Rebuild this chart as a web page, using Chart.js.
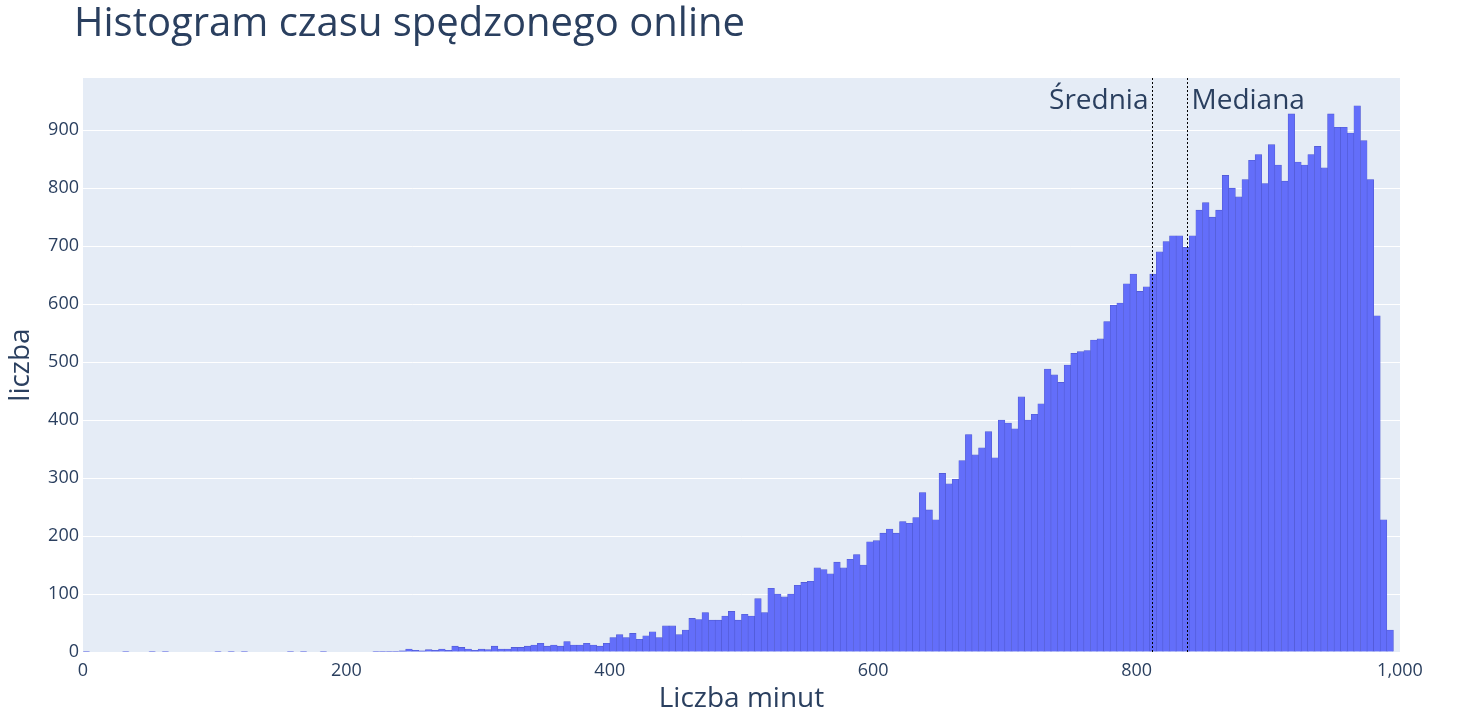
<!DOCTYPE html>
<html><head><meta charset="utf-8">
<script src="https://cdn.jsdelivr.net/npm/chart.js@4"></script>
<style>html,body{margin:0;padding:0;background:#fff}#c{display:block}</style>
</head><body>
<div style="width:1464px;height:720px"><canvas id="c"></canvas></div>
<script>
const binStarts = [];
for (let i = 0; i < 200; i++) binStarts.push(i * 5);
const counts = [
1,0,0,0,0,0,1,0,0,0, 1,0,1,0,0,0,0,0,0,0,
1,0,1,0,1,0,0,0,0,0, 0,1,0,1,0,0,1,0,0,0,
0,0,0,0,1,1,1,1,2,5, 3,2,4,3,5,3,10,8,5,3,
5,4,10,5,5,8,8,10,12,15, 10,12,10,18,12,12,15,12,10,15,
25,30,25,32,22,28,35,25,45,45, 30,38,58,56,68,55,55,62,70,55,
65,62,92,68,110,100,95,100,115,120, 122,145,142,135,155,145,160,168,150,190,
192,205,212,205,225,222,232,275,245,228, 308,290,298,330,375,340,352,380,335,400,
395,385,440,400,410,428,488,478,465,495, 515,518,520,538,540,570,598,602,635,652,
622,630,652,690,708,718,718,698,718,762, 775,750,762,822,800,785,815,848,858,808,
875,840,812,928,845,840,858,872,835,928, 905,905,895,942,882,815,580,228,38,0
];
const xTicks = [0,200,400,600,800,1000];
const yTicks = [0,100,200,300,400,500,600,700,800,900];
const meanValue = 812;
const medianValue = 838;
const titleText = "Histogram czasu spędzonego online";

const font = "'Open Sans', 'Noto Sans', sans-serif";
const ink = '#2a3f5f';

const bgPlugin = {
  id: 'bg',
  beforeDraw(chart) {
    const {ctx, chartArea: a} = chart;
    ctx.save(); ctx.fillStyle = '#e5ecf6';
    ctx.fillRect(a.left, a.top, a.right - a.left, a.bottom - a.top);
    ctx.restore();
  },
  afterDraw(chart) {
    const {ctx, chartArea: a, scales} = chart;
    ctx.save();
    ctx.fillStyle = ink;
    ctx.font = "40px " + font;
    ctx.textBaseline = 'middle';
    ctx.fillText(titleText, 74, 25);
    ctx.setLineDash([2, 2]);
    ctx.strokeStyle = '#000'; ctx.lineWidth = 1;
    ctx.font = "28px " + font;
    [[meanValue, 'Średnia', 'right', -4], [medianValue, 'Mediana', 'left', 4]].forEach(([v, t, al, dx]) => {
      const x = Math.round(scales.x.getPixelForValue(v)) + 0.5;
      ctx.beginPath(); ctx.moveTo(x, a.top); ctx.lineTo(x, a.bottom); ctx.stroke();
      ctx.textAlign = al; ctx.fillText(t, x + dx, 101);
    });
    ctx.restore();
  }
};

new Chart(document.getElementById('c'), {
  type: 'bar',
  data: {
    datasets: [{
      data: binStarts.map((s, i) => ({x: s + 2.5, y: counts[i]})),
      backgroundColor: '#636efa',
      borderColor: '#4f58d0',
      borderWidth: 0.6,
      barPercentage: 1,
      categoryPercentage: 1
    }]
  },
  options: {
    responsive: true, maintainAspectRatio: false, animation: false,
    layout: {padding: {top: 78, right: 64, left: 0, bottom: 0}},
    plugins: {legend: {display: false}, tooltip: {enabled: false}},
    scales: {
      x: {
        type: 'linear', min: 0, max: 1000, offset: false,
        afterFit(s) { s.height = 68; },
        afterBuildTicks(s) { s.ticks = xTicks.map(v => ({value: v})); },
        grid: {display: false}, border: {display: false},
        ticks: {color: ink, font: {size: 18, family: font}, padding: 0, maxRotation: 0},
        title: {display: true, text: 'Liczba minut', color: ink, font: {size: 28, family: font}, padding: {top: 0}}
      },
      y: {
        min: 0, max: 990,
        afterFit(s) { s.width = 83; },
        afterBuildTicks(s) { s.ticks = yTicks.map(v => ({value: v})); },
        grid: {color: '#ffffff', lineWidth: 1, drawTicks: false}, border: {display: false},
        ticks: {color: ink, font: {size: 18, family: font}, padding: 4},
        title: {display: true, text: 'liczba', color: ink, font: {size: 28, family: font}, padding: {bottom: 0}}
      }
    }
  },
  plugins: [bgPlugin]
});
</script>
</body></html>
